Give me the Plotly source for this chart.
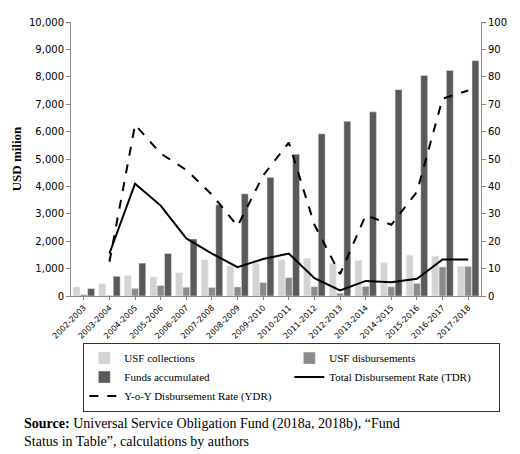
import plotly.graph_objects as go

years = ["2002-2003", "2003-2004", "2004-2005", "2005-2006", "2006-2007", "2007-2008",
         "2008-2009", "2009-2010", "2010-2011", "2011-2012", "2012-2013", "2013-2014",
         "2014-2015", "2015-2016", "2016-2017", "2017-2018"]
collections = [330, 450, 750, 700, 850, 1320, 1100, 1200, 1320, 1380, 1200, 1300, 1220, 1490, 1450, 1080]
disbursements = [50, 20, 280, 380, 320, 310, 330, 490, 670, 340, 100, 350, 340, 460, 1060, 1080]
accumulated = [270, 720, 1200, 1550, 2080, 3330, 3730, 4330, 5170, 5920, 6380, 6720, 7530, 8050, 8230, 8590]
ydr = [None, 12.5, 62.5, 52, 46, 37, 25.5, 44, 56, 26, 8, 29.5, 26, 38, 72, 75]
tdr = [None, 15.5, 41, 33, 21, 15.5, 10.5, 13.5, 15.5, 6.5, 2, 5.5, 5, 6.3, 13.3, 13.3]

fig = go.Figure()
fig.add_trace(go.Bar(x=years, y=collections, name="USF collections", marker_color="#d3d3d3", legendrank=1))
fig.add_trace(go.Bar(x=years, y=disbursements, name="USF disbursements", marker_color="#8a8a8a", legendrank=2))
fig.add_trace(go.Bar(x=years, y=accumulated, name="Funds accumulated", marker_color="#595959", legendrank=3))
fig.add_trace(go.Scatter(x=years, y=ydr, name="Y-o-Y Disbursement Rate (YDR)", mode="lines",
                         line=dict(color="black", width=2, dash="dash"), yaxis="y2", legendrank=5))
fig.add_trace(go.Scatter(x=years, y=tdr, name="Total Disbursement Rate (TDR)", mode="lines",
                         line=dict(color="black", width=2), yaxis="y2", legendrank=4))

tick_font = dict(family="DejaVu Sans", size=10, color="black")
fig.update_layout(
    width=520, height=454,
    plot_bgcolor="white", paper_bgcolor="white",
    margin=dict(l=52, r=40, t=8, b=166),
    barmode="group", bargap=0.15, bargroupgap=0.05,
    xaxis=dict(tickangle=-45, tickfont=dict(family="DejaVu Sans", size=8, color="black"), showline=True,
               linecolor="#888", ticks="outside", ticklen=3, tickcolor="#888"),
    yaxis=dict(range=[0, 10000], dtick=1000, tickformat=",", tickfont=tick_font, showgrid=False,
               showline=True, linecolor="#888", ticks="outside", tickcolor="#888", ticklen=4,
               title=dict(text="<b>USD milion</b>", font=dict(family="Liberation Serif", size=13, color="black"), standoff=4)),
    yaxis2=dict(range=[0, 100], dtick=10, overlaying="y", side="right", tickfont=tick_font,
                showgrid=False, showline=True, linecolor="#888", ticks="outside", tickcolor="#888", ticklen=4,
                title=dict(text="%", font=dict(family="Liberation Serif", size=13, color="black"), standoff=4)),
    legend=dict(orientation="h", x=0.03, y=-0.17, xanchor="left", yanchor="top",
                entrywidth=0.5, entrywidthmode="fraction", traceorder="normal",
                bordercolor="#333", borderwidth=1, tracegroupgap=0,
                font=dict(family="Liberation Serif", size=11, color="black")),
    annotations=[dict(text="<b>Source:</b> Universal Service Obligation Fund (2018a, 2018b), \u201cFund<br>Status in Table\u201d, calculations by authors",
                      xref="paper", yref="paper", x=-0.12, y=-0.43, xanchor="left", yanchor="top",
                      showarrow=False, align="left", font=dict(family="Liberation Serif", size=14, color="black"))],
)
fig.write_html("out.html")
